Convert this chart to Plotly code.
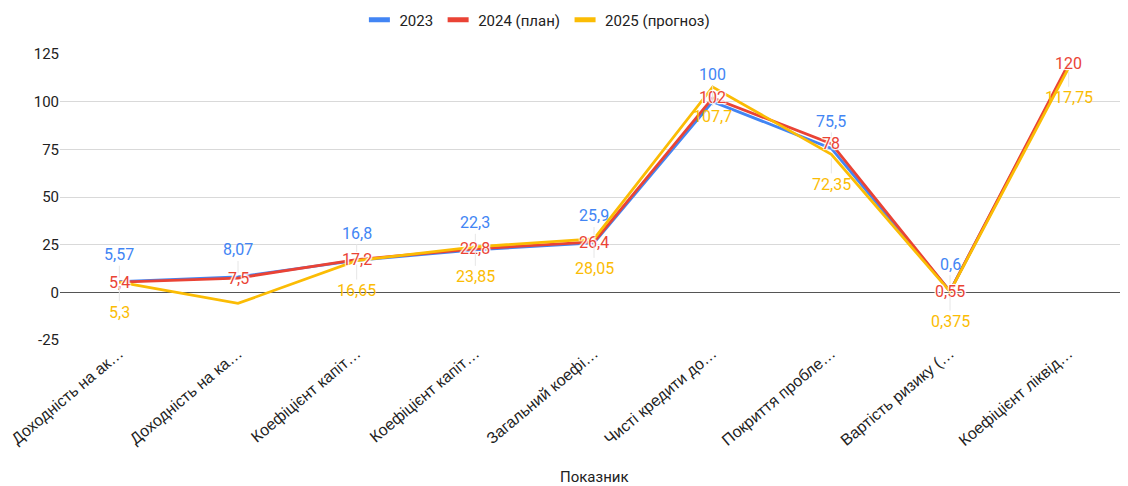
import plotly.graph_objects as go

categories = [
    "Доходність на ак…",
    "Доходність на ка…",
    "Коефіцієнт капіт…",
    "Коефіцієнт капіт…",
    "Загальний коефі…",
    "Чисті кредити до…",
    "Покриття пробле…",
    "Вартість ризику (…",
    "Коефіцієнт ліквід…",
]
# unique internal keys (two categories share the same truncated label)
keys = [f"c{i}" for i in range(len(categories))]

series_names = ["2023", "2024 (план)", "2025 (прогноз)"]
v2023 = [5.57, 8.07, 16.8, 22.3, 25.9, 100, 75.5, 0.6, 119]
v2024 = [5.4, 7.5, 17.2, 22.8, 26.4, 102, 78, 0.55, 120]
v2025 = [5.3, -5.8, 16.65, 23.85, 28.05, 107.7, 72.35, 0.375, 117.75]
# which labels are visible (Google hides colliding ones)
show2023 = [1, 1, 1, 1, 1, 1, 1, 1, 0]
show2024 = [1, 1, 1, 1, 1, 1, 1, 1, 1]
show2025 = [1, 0, 1, 1, 1, 1, 1, 1, 1]

y_ticks = [-25, 0, 25, 50, 75, 100, 125]
y_ticktext = ["-25", "0", "25", "50", "75", "100", "125"]

colors = ["#4285F4", "#EA4335", "#FBBC04"]
values = [v2023, v2024, v2025]
shows = [show2023, show2024, show2025]
label_shift = [-27, 0, 30]

def fmt(v):
    s = f"{v:g}"
    return s.replace(".", ",")

fig = go.Figure()
for name, vals, col in zip(series_names, values, colors):
    fig.add_trace(go.Scatter(
        x=keys, y=vals, name=name, mode="lines", showlegend=False,
        line=dict(color=col, width=2.8),
    ))
# legend-only entries with short thick bars
for name, col in zip(series_names, colors):
    fig.add_trace(go.Scatter(
        x=[None], y=[None], name=name, mode="markers",
        marker=dict(symbol="line-ew", size=15, color=col, line=dict(width=5, color=col)),
    ))

halo = "1px 1px 1px white, -1px -1px 1px white, 1px -1px 1px white, -1px 1px 1px white"
annotations = []
for vals, col, show, sh in zip(values, colors, shows, label_shift):
    for k, v, s in zip(keys, vals, show):
        if not s:
            continue
        if sh == 0:
            annotations.append(dict(
                x=k, y=v, xref="x", yref="y", text=fmt(v), showarrow=False,
                font=dict(family="Roboto", size=16, color=col, shadow=halo),
            ))
        else:
            annotations.append(dict(
                x=k, y=v, xref="x", yref="y", text=fmt(v), showarrow=True,
                ax=0, ay=sh, arrowhead=0, arrowwidth=1, arrowcolor="#e6e6e6",
                standoff=4,
                font=dict(family="Roboto", size=16, color=col),
            ))

annotations.append(dict(
    x=0.5, y=-0.479, xref="paper", yref="paper", text="Показник",
    showarrow=False, xanchor="center", yanchor="middle",
    font=dict(family="Roboto", size=15, color="#222222"),
))

# page body has an 8px default margin, so the figure is sized to fit the window
fig.update_layout(
    width=1120, height=478,
    margin=dict(l=52, r=0, t=46, b=146, autoexpand=False),
    paper_bgcolor="white", plot_bgcolor="white",
    showlegend=True,
    legend=dict(orientation="h", x=0.447, xanchor="center", y=1.119, yanchor="middle",
                font=dict(family="Roboto", size=15, color="#222222"),
                itemwidth=30),
    annotations=annotations,
)
fig.update_xaxes(
    type="category", tickvals=keys, ticktext=categories, tickangle=-40,
    range=[-0.5, len(keys) - 0.5],
    tickfont=dict(family="Liberation Sans", size=16, color="#222222"),
    showgrid=False, showline=False, ticks="", automargin=False,
)
fig.update_yaxes(
    range=[-25, 125], tickvals=y_ticks, ticktext=y_ticktext,
    gridcolor="#d9d9d9", gridwidth=1,
    zeroline=True, zerolinecolor="#555555", zerolinewidth=1.2,
    tickfont=dict(family="Roboto", size=15, color="#222222"),
    ticks="", showline=False, automargin=False,
)
fig.write_html("out.html")
